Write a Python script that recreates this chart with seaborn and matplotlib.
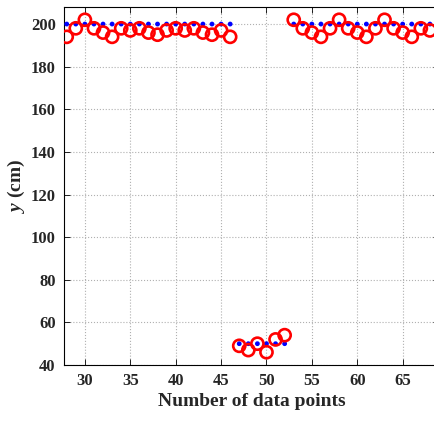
import matplotlib
matplotlib.use("Agg")
import matplotlib.pyplot as plt
import seaborn as sns
import pandas as pd

# measured points (red circles)
x_points = list(range(28, 69))
y_measured = [194, 198, 202, 198, 196, 194, 198, 197, 198, 196,
              195, 197, 198, 197, 198, 196, 195, 197, 194,
              49, 47, 50, 46, 52, 54,
              202, 198, 196, 194, 198, 202, 198, 196, 194, 198,
              202, 198, 196, 194, 198, 197]
# reference values (blue dots)
y_true = [200] * 19 + [50] * 6 + [200] * 16

x_ticks = [30, 35, 40, 45, 50, 55, 60, 65]
y_ticks = [40, 60, 80, 100, 120, 140, 160, 180, 200]

sns.set_theme(style="whitegrid")
plt.rcParams["font.family"] = ["Liberation Serif", "DejaVu Serif"]
plt.rcParams["font.weight"] = "bold"
plt.rcParams["mathtext.fontset"] = "custom"
plt.rcParams["mathtext.it"] = "Liberation Serif:italic:bold"
plt.rcParams["mathtext.rm"] = "Liberation Serif:bold"

df = pd.DataFrame({"x": x_points, "measured": y_measured, "true": y_true})

fig = plt.figure(figsize=(4.34, 4.24), dpi=100)
ax = fig.add_axes([64 / 434, 59 / 424, (439 - 64) / 434, (365 - 7) / 424])

sns.scatterplot(data=df, x="x", y="true", ax=ax, color="blue", s=12,
                edgecolor="none", zorder=3, legend=False)
sns.scatterplot(data=df, x="x", y="measured", ax=ax, marker="o", s=76,
                facecolor="none", edgecolor="red", linewidth=1.9, zorder=4,
                legend=False, clip_on=True)

ax.set_xlim(27.7, 69)
ax.set_ylim(40, 208)
ax.set_xticks(x_ticks)
ax.set_yticks(y_ticks)

ax.grid(True, linestyle=":", color="#b0b0b0", linewidth=0.8)
ax.set_facecolor("white")
for s in ax.spines.values():
    s.set_color("black")
    s.set_linewidth(0.8)
ax.tick_params(direction="in", length=4, width=0.6, color="black",
               top=True, right=True, bottom=True, left=True,
               labelsize=12, pad=6)
for lab in ax.get_xticklabels() + ax.get_yticklabels():
    lab.set_fontweight("bold")

ax.set_xlabel("Number of data points", fontsize=14, fontweight="bold", labelpad=3)
ax.set_ylabel(r"$y$ (cm)", fontsize=14, fontweight="bold", labelpad=3)

fig.savefig("out.png", dpi=100)
